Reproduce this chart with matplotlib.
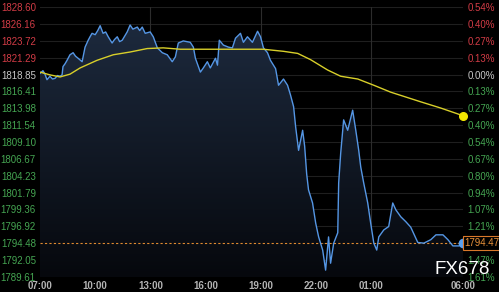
import matplotlib
matplotlib.use("Agg")
import matplotlib.pyplot as plt
import numpy as np
from matplotlib.colors import LinearSegmentedColormap

# ---- data (hours after 07:00, price) ----
price_t = [0, 0.16, 0.27, 0.38, 0.54, 0.68, 0.82, 0.95, 1.09, 1.20, 1.25, 1.36, 1.47, 1.63,
           1.80, 1.93, 2.07, 2.29, 2.45, 2.62, 2.72, 2.83, 3.00, 3.14, 3.27, 3.43, 3.57, 3.71,
           3.92, 4.05, 4.20, 4.33, 4.47, 4.74, 4.90, 5.05, 5.29, 5.42, 5.56, 5.72, 5.99, 6.16,
           6.38, 6.65, 6.92, 7.19, 7.36, 7.52, 7.79, 8.17, 8.34, 8.45, 8.72, 8.88, 9.10, 9.26,
           9.54, 9.65, 9.75, 9.97, 10.25, 10.46, 10.63, 10.90, 11.06, 11.28, 11.55, 11.83,
           11.99, 12.15, 12.37, 12.53, 12.81, 12.97, 13.24, 13.46, 13.62, 13.79, 13.90, 14.06,
           14.28, 14.39, 14.50, 14.60, 14.82, 14.99, 15.15, 15.37, 15.53, 15.69, 15.80, 15.97,
           16.19, 16.24, 16.35, 16.51, 16.73, 17.00, 17.17, 17.33, 17.44, 17.60, 17.82, 17.98,
           18.15, 18.31, 18.42, 18.69, 18.96, 19.18, 19.35, 19.62, 19.89, 20.16, 20.54, 20.87,
           21.25, 21.53, 21.91, 22.18, 22.45, 22.78, 23.0]
price_v = [1819.0, 1819.4, 1818.9, 1818.1, 1818.6, 1818.2, 1818.3, 1818.7, 1818.6, 1818.8,
           1820.0, 1820.4, 1820.9, 1821.7, 1822.0, 1821.5, 1821.2, 1820.7, 1822.8, 1823.8,
           1824.3, 1824.8, 1824.6, 1825.2, 1825.9, 1824.8, 1825.0, 1824.3, 1823.4, 1823.9,
           1824.3, 1823.6, 1823.8, 1825.0, 1826.0, 1825.4, 1825.7, 1825.2, 1825.7, 1824.8,
           1825.0, 1824.3, 1822.7, 1822.0, 1821.7, 1820.7, 1821.4, 1823.4, 1823.7, 1823.5,
           1822.8, 1821.2, 1819.2, 1819.8, 1820.7, 1819.8, 1821.2, 1820.2, 1823.8, 1823.1,
           1822.8, 1822.7, 1824.1, 1824.8, 1823.5, 1824.3, 1823.5, 1825.1, 1824.3, 1822.7,
           1822.0, 1820.9, 1819.7, 1817.3, 1818.2, 1817.3, 1815.9, 1814.2, 1811.3, 1807.9,
           1810.8, 1808.5, 1804.5, 1802.2, 1800.3, 1797.4, 1795.4, 1793.5, 1790.6, 1795.4,
           1791.6, 1794.5, 1796.0, 1803.2, 1807.5, 1812.3, 1810.8, 1813.7, 1810.8, 1807.9,
           1805.5, 1803.2, 1800.3, 1797.4, 1794.5, 1793.5, 1795.4, 1796.4, 1796.9, 1800.3,
           1799.3, 1798.3, 1797.6, 1796.8, 1794.6, 1794.5, 1795.0, 1795.7, 1795.7, 1795.0,
           1794.1, 1794.1, 1794.47]

avg_t = [0, 0.54, 1.09, 1.63, 2.18, 3.10, 3.98, 4.90, 5.83, 6.70, 7.63, 8.88, 10.74, 12.15,
         13.24, 14.01, 14.71, 15.64, 16.35, 17.28, 18.15, 19.07, 20.71, 21.80, 23.0]
avg_v = [1819.2, 1818.8, 1818.5, 1818.9, 1819.8, 1820.9, 1821.7, 1822.1, 1822.6, 1822.7,
         1822.5, 1822.5, 1822.5, 1822.5, 1822.2, 1821.9, 1821.0, 1819.5, 1818.6, 1818.2,
         1817.3, 1816.3, 1814.9, 1814.0, 1812.9]

last_price = 1794.47
ref_line = 1794.48

y_ticks = [1828.60, 1826.16, 1823.72, 1821.29, 1818.85, 1816.41, 1813.98, 1811.54, 1809.10,
           1806.67, 1804.23, 1801.79, 1799.36, 1796.92, 1794.48, 1792.05, 1789.61]
pct_labels = ["0.54%", "0.40%", "0.27%", "0.13%", "0.00%", "0.13%", "0.27%", "0.40%", "0.54%",
              "0.67%", "0.80%", "0.94%", "1.07%", "1.21%", "1.34%", "1.47%", "1.61%"]
x_ticks = [0, 3, 6, 9, 12, 15, 18, 23]
x_labels = ["07:00", "10:00", "13:00", "16:00", "19:00", "22:00", "01:00", "06:00"]
vgrid = [6, 12, 18]
base_price = 1818.85

RED = "#d23c46"
GREEN = "#45a552"
GRAY = "#c8c8c8"

plt.rcParams['font.family'] = ['Liberation Sans', 'DejaVu Sans']

fig = plt.figure(figsize=(4.99, 2.92), dpi=100, facecolor="black")
L, R, T, B = 40 / 499, 463 / 499, 1 - 7 / 292, 1 - 277 / 292
ax = fig.add_axes([L, B, R - L, T - B])
ax.set_facecolor("black")
ymin, ymax = y_ticks[-1], y_ticks[0]

# grid
for yv in y_ticks:
    ax.axhline(yv, color="#1f1f1f", lw=0.8, zorder=0)
for xv in vgrid:
    ax.axvline(xv, color="#2c2c2c", lw=0.8, zorder=0)

# gradient fill under the price line
poly = ax.fill_between(price_t, price_v, ymin, facecolor="none", edgecolor="none")
cmap = LinearSegmentedColormap.from_list("g", ["#06080d", "#1d2a3e"])
grad = np.linspace(0, 1, 256).reshape(-1, 1)
im = ax.imshow(grad, cmap=cmap, aspect="auto", origin="lower",
               extent=[0, 23, ymin, 1826.5], zorder=1)
path = poly.get_paths()[0]
im.set_clip_path(path, transform=ax.transData)
ax.set_xlim(0, 23)
ax.set_ylim(ymin, ymax)

ax.plot(price_t, price_v, color="#5596e4", lw=1.0, zorder=3)
ax.plot(avg_t, avg_v, color="#d8cf2a", lw=1.0, zorder=4)
ax.plot([avg_t[-1]], [avg_v[-1]], "o", color="#f2e600", ms=5.5, zorder=5, clip_on=False)
ax.plot([price_t[-1]], [last_price], "o", color="#5aa0f0", ms=6, zorder=5, clip_on=False)
ax.axhline(ref_line, color="#e08a30", lw=0.8, ls=(0, (2, 2)), zorder=2)

for s in ax.spines.values():
    s.set_visible(False)

ax.set_yticks(y_ticks)
ax.set_yticklabels([f"{v:.2f}" for v in y_ticks], fontsize=7)
for lab, v in zip(ax.get_yticklabels(), y_ticks):
    lab.set_color(RED if v > base_price + 0.01 else (GRAY if abs(v - base_price) < 0.01 else GREEN))
ax.tick_params(axis="y", length=0, pad=3)
ax.set_xticks(x_ticks)
ax.set_xticklabels(x_labels, fontsize=7, color="#b4b4b4", fontweight="bold")
ax.tick_params(axis="x", length=0, pad=3)

ax2 = ax.twinx()
ax2.set_ylim(ymin, ymax)
for s in ax2.spines.values():
    s.set_visible(False)
ax2.set_yticks(y_ticks)
ax2.set_yticklabels(pct_labels, fontsize=7)
for lab, v in zip(ax2.get_yticklabels(), y_ticks):
    lab.set_color(RED if v > base_price + 0.01 else (GRAY if abs(v - base_price) < 0.01 else GREEN))
ax2.tick_params(axis="y", length=0, pad=3)

ax2.text(1.004, last_price, f"{last_price:.2f}", transform=ax2.get_yaxis_transform(),
         fontsize=7, color="#e8913a", va="center", ha="left", zorder=10,
         bbox=dict(boxstyle="square,pad=0.2", facecolor="black", edgecolor="#d9782a", lw=0.8))

fig.text(462 / 499, 1 - 270 / 292, "FX678", color="white", fontsize=13.5,
         ha="center", va="center", zorder=20)

fig.savefig("out.png", dpi=100, facecolor="black")
